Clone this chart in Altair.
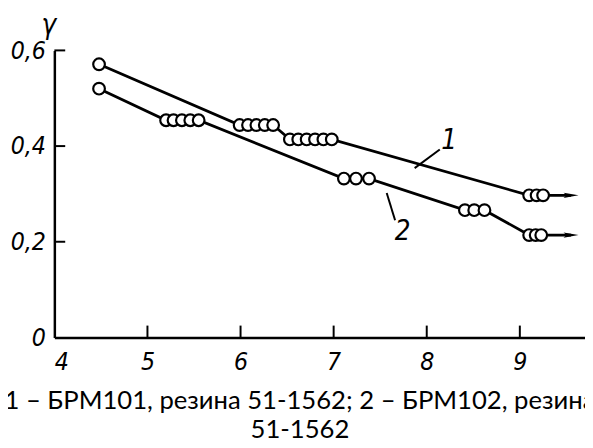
import altair as alt
import pandas as pd

# Curve 1 (БРМ101) measured points
c1_x = [4.48, 5.99, 6.08, 6.17, 6.26, 6.35, 6.53, 6.62, 6.71, 6.80, 6.89, 6.98, 9.10, 9.18, 9.25]
c1_y = [0.571, 0.444, 0.444, 0.444, 0.444, 0.444, 0.414, 0.414, 0.414, 0.414, 0.414, 0.414, 0.297, 0.297, 0.297]
# Curve 2 (БРМ102) measured points
c2_x = [4.48, 5.20, 5.28, 5.37, 5.46, 5.55, 7.11, 7.24, 7.38, 8.41, 8.51, 8.62, 9.10, 9.17, 9.23]
c2_y = [0.520, 0.454, 0.454, 0.454, 0.454, 0.454, 0.332, 0.332, 0.332, 0.266, 0.266, 0.266, 0.214, 0.214, 0.214]

# Arrow continuation at the end of each curve
arrow_x = [9.55, 9.55]
arrow_y = [0.297, 0.214]

# Curve labels and leader lines
lab_text = ["1", "2"]
lab_x = [8.24, 7.74]
lab_y = [0.410, 0.221]
lead_x = [7.87, 7.57]
lead_y = [0.354, 0.302]
lead_x2 = [8.14, 7.66]
lead_y2 = [0.393, 0.245]

x_ticks = [4, 5, 6, 7, 8, 9]
y_ticks = [0, 0.2, 0.4, 0.6]
x_inner_ticks = [5, 6, 7, 8, 9]
y_inner_ticks = [0.2, 0.4, 0.6]

caption = ["1 – БРМ101, резина 51-1562; 2 – БРМ102, резина", "51-1562"]

AX_FONT = "Liberation Sans Narrow, DejaVu Sans Condensed, DejaVu Sans"

pts = pd.DataFrame({
    "x": c1_x + c2_x,
    "y": c1_y + c2_y,
    "curve": ["1"] * len(c1_x) + ["2"] * len(c2_x),
    "order": list(range(len(c1_x))) + list(range(len(c2_x))),
})
line_df = pd.concat([
    pts,
    pd.DataFrame({"x": arrow_x, "y": arrow_y, "curve": ["1", "2"], "order": [99, 99]}),
])
arrow_df = pd.DataFrame({"x": arrow_x, "y": arrow_y})
lab_df = pd.DataFrame({"t": lab_text, "x": lab_x, "y": lab_y})
lead_df = pd.DataFrame({"x": lead_x, "y": lead_y, "x2": lead_x2, "y2": lead_y2})
xt_df = pd.DataFrame({"x": x_inner_ticks})
yt_df = pd.DataFrame({"y": y_inner_ticks})

xs = alt.Scale(domain=[4, 9.70], nice=False, zero=False)
ys = alt.Scale(domain=[0, 0.6], nice=False, zero=False)

x_axis = alt.Axis(values=x_ticks, ticks=False, grid=False, domainColor="black",
                  domainWidth=2.5, labelFont=AX_FONT, labelFontStyle="italic",
                  labelFontSize=25, labelColor="black", labelPadding=13, title=None,
                  labelExpr="format(datum.value, 'd')")
y_axis = alt.Axis(values=y_ticks, ticks=False, grid=False, domainColor="black",
                  domainWidth=2.5, labelFont=AX_FONT, labelFontStyle="italic",
                  labelFontSize=25, labelColor="black", labelPadding=9,
                  labelExpr="replace(format(datum.value, '~g'), '.', ',')",
                  title="γ", titleAngle=0, titleX=-6, titleY=-25, titleAlign="center",
                  titleBaseline="middle", titleFont=AX_FONT, titleFontStyle="italic",
                  titleFontSize=28, titleFontWeight="normal", titleColor="black")

lines = alt.Chart(line_df).mark_line(color="black", strokeWidth=2.8).encode(
    x=alt.X("x:Q", scale=xs, axis=x_axis),
    y=alt.Y("y:Q", scale=ys, axis=y_axis),
    detail="curve:N",
    order="order:Q",
)
markers = alt.Chart(pts).mark_point(shape="circle", filled=False, fill="white",
                                    fillOpacity=1, stroke="black", strokeWidth=2.2,
                                    size=140, opacity=1).encode(
    x=alt.X("x:Q", scale=xs), y=alt.Y("y:Q", scale=ys))
arrows = alt.Chart(arrow_df).mark_point(shape="M-1,-0.35L1,0L-1,0.35L-0.6,0Z", filled=True,
                                        color="black", size=230, opacity=1).encode(
    x=alt.X("x:Q", scale=xs), y=alt.Y("y:Q", scale=ys))
leads = alt.Chart(lead_df).mark_rule(color="black", strokeWidth=2).encode(
    x=alt.X("x:Q", scale=xs), y=alt.Y("y:Q", scale=ys), x2="x2:Q", y2="y2:Q")
labels = alt.Chart(lab_df).mark_text(font=AX_FONT, fontStyle="italic", fontSize=28,
                                     color="black").encode(
    x=alt.X("x:Q", scale=xs), y=alt.Y("y:Q", scale=ys), text="t:N")
xticks = alt.Chart(xt_df).mark_tick(orient="vertical", size=12, thickness=2,
                                    yOffset=-6, color="black", opacity=1).encode(
    x=alt.X("x:Q", scale=xs), y=alt.datum(0, scale=ys))
yticks = alt.Chart(yt_df).mark_tick(orient="horizontal", size=11, thickness=2,
                                    xOffset=5.5, color="black", opacity=1).encode(
    y=alt.Y("y:Q", scale=ys), x=alt.datum(4, scale=xs))

chart = alt.layer(lines, leads, markers, arrows, labels, xticks, yticks).properties(
    width=538, height=291,
    autosize=alt.AutoSizeParams(type="none"),
    padding={"left": 47, "top": 40, "right": 0, "bottom": 101},
    background="white",
    title=alt.TitleParams(text=caption, orient="bottom", anchor="middle", dx=-20,
                          font="Lato", fontSize=26, fontWeight="normal",
                          color="black", offset=14, lineHeight=29),
).configure_view(stroke=None)

chart.save("out.html", embed_options={"renderer": "svg", "actions": False})
